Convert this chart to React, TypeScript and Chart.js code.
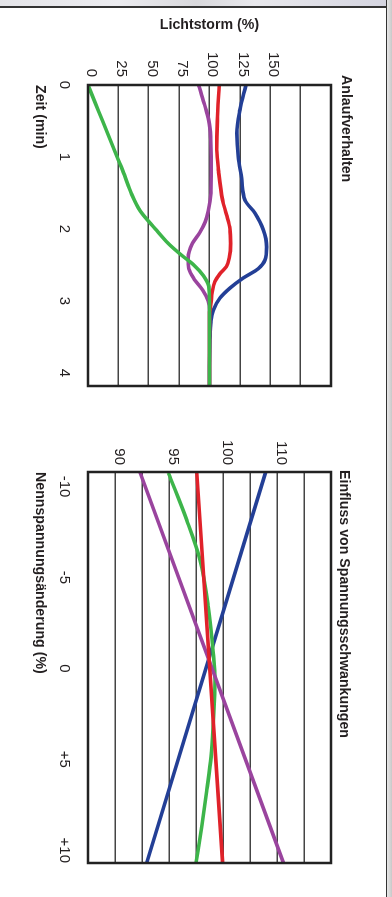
import React, { useEffect, useRef } from 'react';
import { Chart, registerables } from 'chart.js';

Chart.register(...registerables);

// ---- Chart 1: Anlaufverhalten — [Zeit (min), Lichtstrom (%)]
const STARTUP_GREEN = [[0, 0], [0.25, 6], [0.5, 12], [0.75, 18], [1, 24], [1.25, 30], [1.5, 35.5], [1.75, 43], [2, 55.5], [2.2, 66], [2.35, 76], [2.5, 87], [2.65, 95], [2.8, 99.5], [3, 100], [4.18, 100]];
const STARTUP_PURPLE = [[0, 91], [0.25, 95.5], [0.5, 99.5], [0.75, 101], [1, 101.5], [1.25, 101.5], [1.5, 101.2], [1.75, 99], [1.9, 96.5], [2.05, 92], [2.2, 86], [2.4, 82.5], [2.55, 83], [2.7, 87.5], [2.85, 94.5], [3, 99], [3.15, 100], [4.18, 100]];
const STARTUP_RED = [[0, 108], [0.5, 106.5], [0.9, 106], [1.2, 107.5], [1.6, 110.8], [1.8, 114], [2, 116.8], [2.2, 117.4], [2.4, 116.3], [2.52, 114], [2.62, 108.6], [2.73, 104.5], [2.87, 102.3], [3.03, 101.2], [3.2, 100], [4.18, 100]];
const STARTUP_BLUE = [[0, 130], [0.35, 125], [0.67, 122.5], [1, 123.7], [1.3, 126.5], [1.6, 129.2], [1.78, 137.4], [2.01, 144.3], [2.25, 147], [2.43, 145.7], [2.55, 140.2], [2.68, 127.8], [2.82, 116.9], [2.96, 108.6], [3.13, 103.1], [3.29, 101.2], [3.54, 100.4], [3.9, 100], [4.18, 100]];
const TIME_TICKS = [0, 1, 2, 3, 4];
const FLUX_TICKS = [0, 25, 50, 75, 100, 125, 150];

// ---- Chart 2: Einfluss von Spannungsschwankungen — [Nennspannungsänderung (%), Lichtstrom]
const VOLT_BLUE = [[-10.8, 103.95], [10.7, 92.93]];
const VOLT_PURPLE = [[-10.8, 92.3], [10.7, 105.6]];
const VOLT_RED = [[-10.8, 97.57], [10.7, 99.97]];
const VOLT_GREEN = [[-10.75, 94.94], [-8.16, 96.64], [-5.96, 97.87], [-3.39, 98.64], [-0.85, 99.1], [0.64, 99.26], [3.0, 99.1], [4.86, 98.9], [6.69, 98.5], [8.7, 98.03], [10.7, 97.5]];
const VOLT_TICKS = [-10, -5, 0, 5, 10];
const VOLT_TICK_LABELS = ['-10', '-5', '0', '+5', '+10'];
const VOLT_VALUE_TICKS = [90, 95, 100, 105];
const VOLT_VALUE_LABELS = ['90', '95', '100', '110'];

const BLUE = '#233f96';
const RED = '#e0222a';
const GREEN = '#3db54a';
const PURPLE = '#9a449e';
const TEXT = '#231f20';
const GRID = '#444';
const FAMILY = "'Liberation Sans', Arial, Helvetica, sans-serif";

const framePlugin = {
  id: 'frame',
  afterDraw(chart: any) {
    const { ctx, chartArea: a } = chart;
    ctx.save();
    ctx.strokeStyle = '#222';
    ctx.lineWidth = 2.5;
    ctx.strokeRect(a.left, a.top, a.right - a.left, a.bottom - a.top);
    ctx.restore();
  },
};

const headingPlugin = {
  id: 'heading',
  afterDraw(chart: any, _args: any, opts: any) {
    const { ctx, chartArea: a } = chart;
    ctx.save();
    ctx.font = `bold 14.2px ${FAMILY}`;
    ctx.fillStyle = TEXT;
    ctx.textAlign = 'left';
    ctx.textBaseline = 'middle';
    ctx.fillText(opts.text, a.left + opts.dx, a.top + opts.dy);
    ctx.restore();
  },
};

const toXY = (arr: number[][]) => arr.map(([x, y]) => ({ x, y }));

function ds(arr: number[][], color: string, smooth: boolean) {
  return {
    data: toXY(arr),
    borderColor: color,
    borderWidth: 3.6,
    pointRadius: 0,
    fill: false,
    cubicInterpolationMode: smooth ? 'monotone' : 'default',
    tension: 0,
    borderCapStyle: 'butt',
  };
}

const tickFont = { family: FAMILY, size: 15 };
const titleFont = { family: FAMILY, size: 14.2, weight: 'bold' };

function makeStartup(canvas: HTMLCanvasElement) {
  return new Chart(canvas, {
    type: 'line',
    data: {
      datasets: [
        ds(STARTUP_GREEN, GREEN, true),
        ds(STARTUP_RED, RED, true),
        ds(STARTUP_PURPLE, PURPLE, true),
        ds(STARTUP_BLUE, BLUE, true),
      ] as any,
    },
    options: {
      animation: false,
      responsive: false,
      layout: { padding: { left: 0, right: 54, top: 61, bottom: 0 } },
      plugins: {
        legend: { display: false },
        tooltip: { enabled: false },
        heading: { text: 'Anlaufverhalten', dx: -10, dy: -15 },
      } as any,
      scales: {
        x: {
          type: 'linear',
          min: 0,
          max: 4.18,
          afterBuildTicks: (s: any) => { s.ticks = TIME_TICKS.map((v) => ({ value: v })); },
          afterFit: (s: any) => { s.height = 88; },
          grid: { display: false },
          border: { display: false },
          ticks: { font: tickFont, color: TEXT, padding: 7, maxRotation: 0, autoSkip: false },
          title: { display: true, text: 'Zeit (min)', align: 'start', font: titleFont, color: TEXT, padding: { top: 0, bottom: 31.5 } },
        },
        y: {
          type: 'linear',
          min: 0,
          max: 200,
          afterFit: (s: any) => { s.width = 85; },
          grid: { color: GRID, lineWidth: 1.4, drawTicks: false },
          border: { display: false },
          ticks: {
            stepSize: 25,
            font: tickFont,
            color: TEXT,
            padding: 8,
            labelOffset: -3,
            callback: (v: any) => (FLUX_TICKS.includes(Number(v)) ? String(v) : ''),
          },
          title: { display: true, text: 'Lichtstorm (%)', font: titleFont, color: TEXT, padding: { top: 16.5, bottom: 0 } },
        },
      } as any,
    },
    plugins: [framePlugin, headingPlugin],
  } as any);
}

function makeVoltage(canvas: HTMLCanvasElement) {
  return new Chart(canvas, {
    type: 'line',
    data: {
      datasets: [
        ds(VOLT_RED, RED, false),
        ds(VOLT_PURPLE, PURPLE, false),
        ds(VOLT_GREEN, GREEN, true),
        ds(VOLT_BLUE, BLUE, false),
      ] as any,
    },
    options: {
      animation: false,
      responsive: false,
      layout: { padding: { left: 0, right: 34, top: 61, bottom: 0 } },
      plugins: {
        legend: { display: false },
        tooltip: { enabled: false },
        heading: { text: 'Einfluss von Spannungsschwankungen', dx: -2, dy: -13 },
      } as any,
      scales: {
        x: {
          type: 'linear',
          min: -10.8,
          max: 10.7,
          afterBuildTicks: (s: any) => { s.ticks = VOLT_TICKS.map((v) => ({ value: v })); },
          afterFit: (s: any) => { s.height = 88; },
          grid: { display: false },
          border: { display: false },
          ticks: {
            font: tickFont,
            color: TEXT,
            padding: 7,
            maxRotation: 0,
            autoSkip: false,
            callback: (v: any) => {
              const i = VOLT_TICKS.indexOf(Number(v));
              return i >= 0 ? VOLT_TICK_LABELS[i] : '';
            },
          },
          title: { display: true, text: 'Nennspannungsänderung (%)', align: 'start', font: titleFont, color: TEXT, padding: { top: 0, bottom: 31.5 } },
        },
        y: {
          type: 'linear',
          min: 87.5,
          max: 110,
          afterFit: (s: any) => { s.width = 32; },
          grid: { color: GRID, lineWidth: 1.4, drawTicks: false },
          border: { display: false },
          ticks: {
            stepSize: 2.5,
            font: tickFont,
            color: TEXT,
            padding: 7,
            labelOffset: -4,
            callback: (v: any) => {
              const i = VOLT_VALUE_TICKS.indexOf(Number(v));
              return i >= 0 ? VOLT_VALUE_LABELS[i] : '';
            },
          },
        },
      } as any,
    },
    plugins: [framePlugin, headingPlugin],
  } as any);
}

export default function App() {
  const c1 = useRef<HTMLCanvasElement>(null);
  const c2 = useRef<HTMLCanvasElement>(null);

  useEffect(() => {
    const a = makeStartup(c1.current!);
    const b = makeVoltage(c2.current!);
    return () => {
      a.destroy();
      b.destroy();
    };
  }, []);

  return (
    <div style={{ position: 'fixed', left: 0, top: 0, width: 392, height: 897, background: '#fff', overflow: 'hidden' }}>
      <div
        style={{
          position: 'absolute',
          left: 0,
          top: 0,
          width: 897,
          height: 392,
          transform: 'translate(392px, 0px) rotate(90deg)',
          transformOrigin: '0 0',
        }}
      >
        <canvas ref={c1} width={440} height={392} style={{ position: 'absolute', left: 0, top: 0, display: 'block' }} />
        <canvas ref={c2} width={457} height={392} style={{ position: 'absolute', left: 440, top: 0, display: 'block' }} />
      </div>
      <div style={{ position: 'absolute', left: 0, top: 0, width: 392, height: 6, background: 'linear-gradient(to right, #e4e4e8 0%, #ececf0 30%, #d8d8dc 50%, #e8e8ec 65%, #d4d4e0 100%)' }} />
      <div style={{ position: 'absolute', left: 0, top: 6, width: 392, height: 1.5, background: '#333' }} />
      <div style={{ position: 'absolute', left: 385.5, top: 0, width: 1.5, height: 897, background: '#333' }} />
      <div style={{ position: 'absolute', left: 387, top: 0, width: 5, height: 897, background: 'linear-gradient(to right, #e8e8e8, #c8c8c8)' }} />
    </div>
  );
}
